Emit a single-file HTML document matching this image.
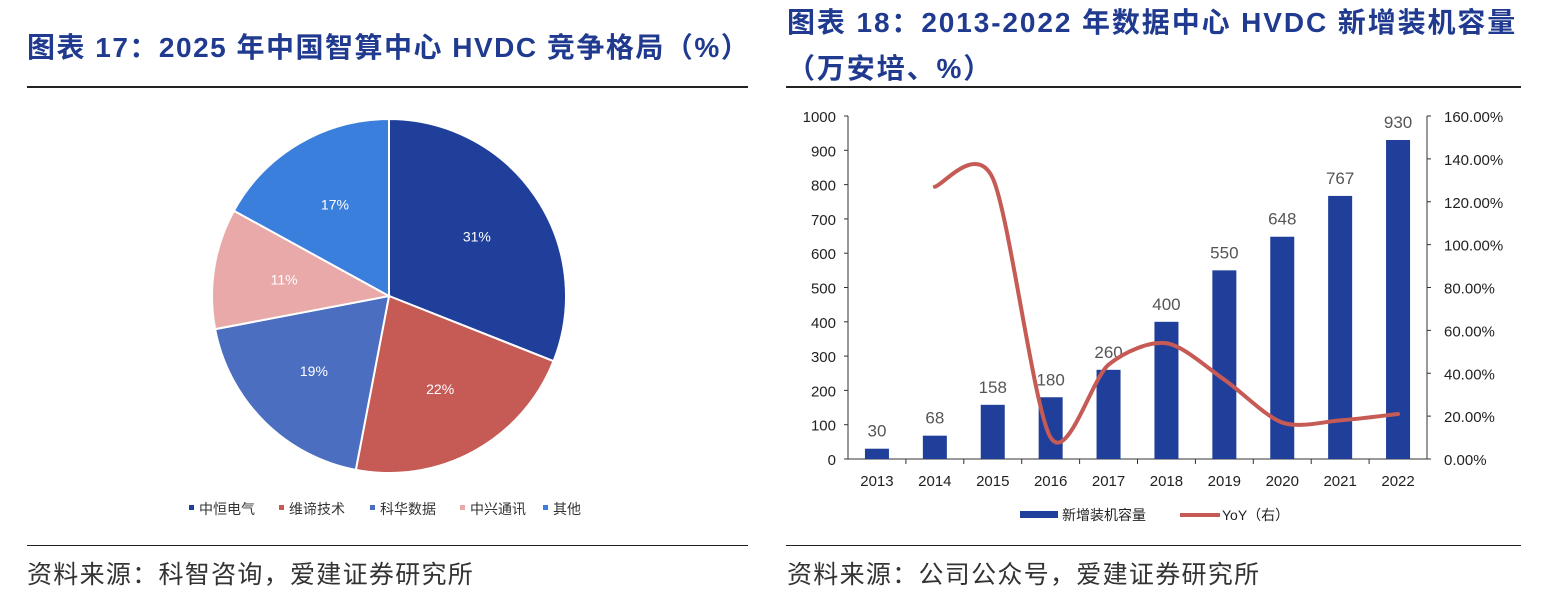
<!DOCTYPE html>
<html><head><meta charset="utf-8"><style>
body{margin:0;width:1547px;height:594px;background:#fff;overflow:hidden;font-family:"Liberation Sans","Noto Sans CJK SC",sans-serif;position:relative}
.t{position:absolute;color:#1f3a8f;font-weight:bold;font-size:28px;white-space:nowrap}
.src{position:absolute;color:#333;font-size:25px;top:555px;white-space:nowrap;letter-spacing:1.3px}
.hl{position:absolute;height:2px;background:#222}
</style></head><body>
<div class="t" style="left:27px;top:26px;letter-spacing:1.5px">图表 17：2025 年中国智算中心 HVDC 竞争格局（%）</div>
<div class="t" style="left:787px;top:0px;line-height:46px;letter-spacing:1.9px">图表 18：2013-2022 年数据中心 HVDC 新增装机容量<br>（万安培、%）</div>
<div class="hl" style="left:27px;width:721px;top:86px"></div>
<div class="hl" style="left:786px;width:735px;top:86px"></div>
<div class="hl" style="left:27px;width:721px;top:545px;height:1px"></div>
<div class="hl" style="left:786px;width:735px;top:545px;height:1px"></div>
<div class="src" style="left:27px">资料来源：科智咨询，爱建证券研究所</div>
<div class="src" style="left:787px">资料来源：公司公众号，爱建证券研究所</div>
<svg id="s" width="1547" height="594" style="position:absolute;left:0;top:0" font-family="Liberation Sans, Noto Sans CJK SC, sans-serif"></svg>
<script>
const pieNames=["中恒电气","维谛技术","科华数据","中兴通讯","其他"];
const pieVals=[31,22,19,11,17];
const pieColors=["#1f3f9a","#c65a55","#4b6ec0","#e8a9a8","#3b7fdd"];
const years=["2013","2014","2015","2016","2017","2018","2019","2020","2021","2022"];
const capVals=[30,68,158,180,260,400,550,648,767,930];
const yoyVals=[null,127,131,10,44,54,37,17,18,21];
const leftTicks=[0,100,200,300,400,500,600,700,800,900,1000];
const rightTicks=[0,20,40,60,80,100,120,140,160];
const s=document.getElementById('s');const NS='http://www.w3.org/2000/svg';
function mk(t,a,txt){const e=document.createElementNS(NS,t);for(const k in a)e.setAttribute(k,a[k]);if(txt!==undefined)e.textContent=txt;s.appendChild(e);return e;}
const cx=389,cy=296,r=177;let tot=pieVals.reduce((a,b)=>a+b,0),acc=0;
pieVals.forEach((v,i)=>{const a0=acc/tot*2*Math.PI,a1=(acc+v)/tot*2*Math.PI;acc+=v;
const p=a=>[cx+r*Math.sin(a),cy-r*Math.cos(a)];const [x0,y0]=p(a0),[x1,y1]=p(a1);
const e=mk('path',{d:`M${cx},${cy}L${x0},${y0}A${r},${r} 0 ${a1-a0>Math.PI?1:0} 1 ${x1},${y1}Z`,fill:pieColors[i],stroke:'#fff','stroke-width':2});

const am=(a0+a1)/2,lx=cx+r*0.6*Math.sin(am),ly=cy-r*0.6*Math.cos(am);
const t=mk('text',{x:lx,y:ly+5,'text-anchor':'middle','font-size':14,fill:'#fff'},v+'%');
});
let lxs=[189,279,370,460,543];
pieNames.forEach((n,i)=>{const r1=mk('rect',{x:lxs[i],y:505,width:5,height:5,fill:pieColors[i]});

const t=mk('text',{x:lxs[i]+10,y:514,'font-size':14,fill:'#333'},n);
});
const X0=848,X1=1427,Y0=459,Y1=116,n=years.length,bw=(X1-X0)/n;
const xc=i=>X0+bw*(i+0.5),yl=v=>Y0-(v/1000)*(Y0-Y1),yr=v=>Y0-(v/160)*(Y0-Y1);
let e=mk('line',{x1:X0,y1:Y1,x2:X0,y2:Y0,stroke:'#333'});
e=mk('line',{x1:X1,y1:Y1,x2:X1,y2:Y0,stroke:'#333'});
e=mk('line',{x1:X0,y1:Y0,x2:X1,y2:Y0,stroke:'#333'});
leftTicks.forEach(v=>{mk('line',{x1:X0-4,y1:yl(v),x2:X0,y2:yl(v),stroke:'#333'});
const t=mk('text',{x:X0-12,y:yl(v)+6,'text-anchor':'end','font-size':15,fill:'#222'},v);});
rightTicks.forEach(v=>{mk('line',{x1:X1,y1:yr(v),x2:X1+4,y2:yr(v),stroke:'#333'});
const t=mk('text',{x:X1+17,y:yr(v)+6,'font-size':15,fill:'#222'},v.toFixed(2)+'%');});
years.forEach((y,i)=>{if(i>0)mk('line',{x1:X0+bw*i,y1:Y0,x2:X0+bw*i,y2:Y0+5,stroke:'#333'});
const t=mk('text',{x:xc(i),y:Y0+27,'text-anchor':'middle','font-size':15,fill:'#222'},y);
const b=mk('rect',{x:xc(i)-12,y:yl(capVals[i]),width:24,height:Y0-yl(capVals[i]),fill:'#1f3f9a'});
const l=mk('text',{x:xc(i),y:yl(capVals[i])-12,'text-anchor':'middle','font-size':17,fill:'#555'},capVals[i]);});
const pts=[];yoyVals.forEach((v,i)=>{if(v!==null)pts.push([xc(i),yr(v)]);});
let d='M'+pts[0][0]+','+pts[0][1];const k=7;
for(let i=0;i<pts.length-1;i++){const p0=pts[Math.max(i-1,0)],p1=pts[i],p2=pts[i+1],p3=pts[Math.min(i+2,pts.length-1)];
d+=`C${p1[0]+(p2[0]-p0[0])/k},${p1[1]+(p2[1]-p0[1])/k} ${p2[0]-(p3[0]-p1[0])/k},${p2[1]-(p3[1]-p1[1])/k} ${p2[0]},${p2[1]}`;}
e=mk('path',{d:d,fill:'none',stroke:'#c65a55','stroke-width':4,'stroke-linecap':'round'});
e=mk('rect',{x:1020,y:511,width:38,height:7,fill:'#1f3f9a'});
e=mk('text',{x:1062,y:520,'font-size':14,fill:'#222'},'新增装机容量');
e=mk('line',{x1:1180,y1:515,x2:1220,y2:515,stroke:'#c65a55','stroke-width':4});
e=mk('text',{x:1222,y:520,'font-size':14,fill:'#222'},'YoY（右）');
</script>
</body></html>
